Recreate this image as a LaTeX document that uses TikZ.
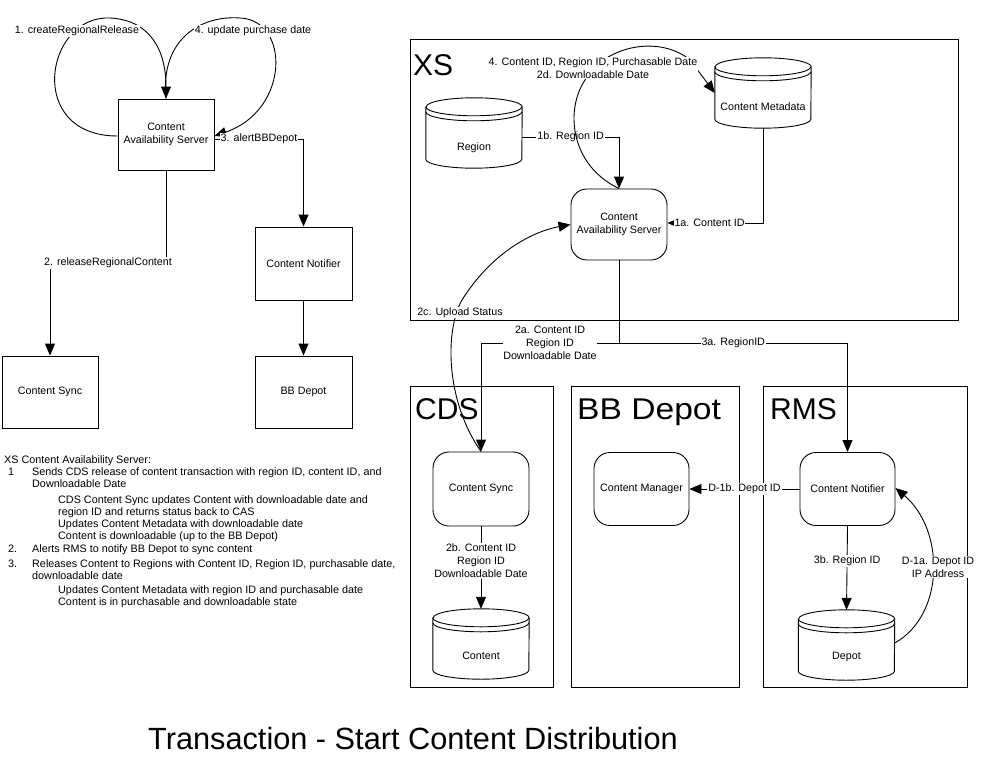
\documentclass[tikz,border=0pt]{standalone}
\usepackage{fontspec}
\setmainfont{Liberation Sans}
\usetikzlibrary{arrows.meta,calc}

\newcommand{\dbshape}[1]{%
  \draw[ln] ([yshift=-9pt]#1.north west) -- ([yshift=9pt]#1.south west)
    arc[start angle=180,end angle=360,x radius=48pt,y radius=9pt]
    -- ([yshift=-9pt]#1.north east)
    arc[start angle=0,end angle=180,x radius=48pt,y radius=9pt];
  \draw[ln] ([yshift=-9pt]#1.north west) arc[start angle=180,end angle=360,x radius=48pt,y radius=9pt];
  \draw[ln] ([yshift=-14pt]#1.north west) arc[start angle=180,end angle=360,x radius=48pt,y radius=9pt];
}

\begin{document}
\begin{tikzpicture}[x=1pt,y=-1pt,
  every node/.style={font=\fontsize{10.7}{13}\selectfont, inner sep=1pt},
  ln/.style={line width=0.9pt},
  arr/.style={ln, -{Triangle[length=12pt,width=10pt]}},
  box/.style={draw, ln, minimum width=96pt, minimum height=72pt, align=center, inner sep=0pt},
  rbox/.style={box, rounded corners=16pt},
  cylnode/.style={minimum width=96pt, minimum height=70pt, inner sep=0pt},
  lbl/.style={fill=white, inner sep=1pt, align=center},
  frame/.style={draw, line width=1pt},
  big/.style={font=\fontsize{30}{36}\selectfont, anchor=base west, inner sep=0pt},
  txt/.style={anchor=base west, inner sep=0pt, font=\fontsize{10.8}{13}\selectfont},
]
\useasboundingbox (0,0) rectangle (981,768);

% ---------------- left diagram ----------------
\node[box, minimum height=71pt] (casL) at (166,134.5) {Content\\Availability Server};
\node[box, minimum width=97pt, minimum height=73pt] (cnL) at (303.5,263.5) {Content Notifier};
\node[box, minimum width=97pt] (bbL) at (303.5,392) {BB Depot};
\node[box] (csL) at (50,392) {Content Sync};

\draw[arr] ([yshift=-1.5pt]casL.west) .. controls (25,136) and (45,15) .. (110,18)
   .. controls (150,20) and (166,50) .. (casL.north);
\node[lbl] (l1) at (77,31) {1. createRegionalRelease};

\draw[arr] (casL.north) .. controls (160,40) and (200,15) .. (240,18)
   .. controls (290,20) and (290,110) .. ([yshift=-1.5pt]casL.east);
\node[lbl] (l4) at (253,31) {4. update purchase date};

\draw[arr] ([yshift=-4.5pt]casL.east) -| node[lbl,pos=0.25]{3. alertBBDepot} (cnL.north);
\draw[arr] (cnL.south) -- (bbL.north);

\coordinate (c2) at (166,263);
\draw[arr] (casL.south) -- (c2) -| node[lbl,pos=0.25]{2. releaseRegionalContent} (csL.north);

% ---------------- frames ----------------
\draw[frame] (410,40) rectangle (958,320);
\draw[frame] (410,386) rectangle (553,687);
\draw[frame] (571,386) rectangle (739,687);
\draw[frame] (763,386) rectangle (967,687);

\node[big] (tXS) at (413,75) {XS};
\node[big] (tCDS) at (415,419) {CDS};
\node[big] (tBB) at (577,419) {\scalebox{1.12}[1]{BB Depot}};
\node[big] (tRMS) at (770,419) {RMS};

% ---------------- right diagram ----------------
\node[rbox, minimum height=71pt] (casX) at (619,224.5) {Content\\Availability Server};
\node[rbox, minimum height=74pt] (csX) at (481,489) {Content Sync};
\node[rbox, minimum width=95pt, minimum height=73pt] (cm) at (641.5,489) {Content Manager};
\node[rbox, minimum width=95pt, minimum height=73pt] (cnX) at (847.5,489) {Content Notifier};

\node[cylnode] (region) at (474,133) {};
\dbshape{region}
\node at ([yshift=-15pt]region.center) {Region};

\node[cylnode] (cmeta) at (763,93) {};
\dbshape{cmeta}
\node at ([yshift=-14pt]cmeta.center) {Content Metadata};

\node[cylnode] (content) at (481,644) {};
\dbshape{content}
\node at ([yshift=-12pt]content.center) {Content};

\node[cylnode] (depot) at (846.5,645) {};
\dbshape{depot}
\node at ([yshift=-12pt]depot.center) {Depot};

\draw[arr] ([yshift=-4pt]region.east) -| node[lbl,pos=0.25]{1b. Region ID} (casX.north);
\draw[arr] (cmeta.south) |- node[lbl,pos=0.78]{1a. Content ID} ([yshift=1.5pt]casX.east);

\draw[arr] (casX.north) .. controls (570,165) and (565,110) .. (585,80)
   .. controls (605,45) and (660,35) .. (690,60) -- (cmeta.west);
\node[lbl] (l4b) at (593,68) {4. Content ID, Region ID, Purchasable Date\\2d. Downloadable Date};

\draw[arr] (csX.north) .. controls (445,400) and (445,330) .. (462,300)
   .. controls (490,255) and (530,232) .. (casX.west);
\node[lbl] (l2c) at (460,312.5) {2c. Upload Status};

\coordinate (split) at (619,343);
\draw[ln] (casX.south) -- (split);
\draw[arr] (split) -| node[lbl,pos=0.25,inner sep=0.5pt]{2a. Content ID\\Region ID\\Downloadable Date} (csX.north);
\draw[arr] (split) -| node[lbl,pos=0.25]{3a. RegionID} (cnX.north);

\draw[arr] (csX.south) -- node[lbl,pos=0.42]{2b. Content ID\\Region ID\\Downloadable Date} (content.north);
\draw[arr] (cnX.south) -- node[lbl,pos=0.42]{3b. Region ID} (depot.north);
\draw[arr] (cnX.west) -- node[lbl]{D-1b. Depot ID} (cm.east);

\draw[arr] ([yshift=2pt]depot.east) .. controls (945,615) and (945,530) .. ([yshift=1pt]cnX.east);
\node[lbl] (ld1a) at (938,567) {D-1a. Depot ID\\IP Address};

% ---------------- notes ----------------
\node[txt] at (4,463) {XS Content Availability Server:};
\node[txt] at (8,475) {1};
\node[txt] at (32,475) {Sends CDS release of content transaction with region ID, content ID, and};
\node[txt] at (32,487) {Downloadable Date};
\node[txt] at (58,503) {CDS Content Sync updates Content with downloadable date and};
\node[txt] at (58,515) {region ID and returns status back to CAS};
\node[txt] at (58,527) {Updates Content Metadata with downloadable date};
\node[txt] at (58,539) {Content is downloadable (up to the BB Depot)};
\node[txt] at (8,552) {2.};
\node[txt] at (32,552) {Alerts RMS to notify BB Depot to sync content};
\node[txt] at (8,567) {3.};
\node[txt] at (32,567) {Releases Content to Regions with Content ID, Region ID, purchasable date,};
\node[txt] at (32,579) {downloadable date};
\node[txt] at (58,593) {Updates Content Metadata with region ID and purchasable date};
\node[txt] at (58,605) {Content is in purchasable and downloadable state};

% ---------------- title ----------------
\node[font=\fontsize{30.7}{36}\selectfont] (title) at (413,739) {Transaction - Start Content Distribution};
\end{tikzpicture}
\end{document}
